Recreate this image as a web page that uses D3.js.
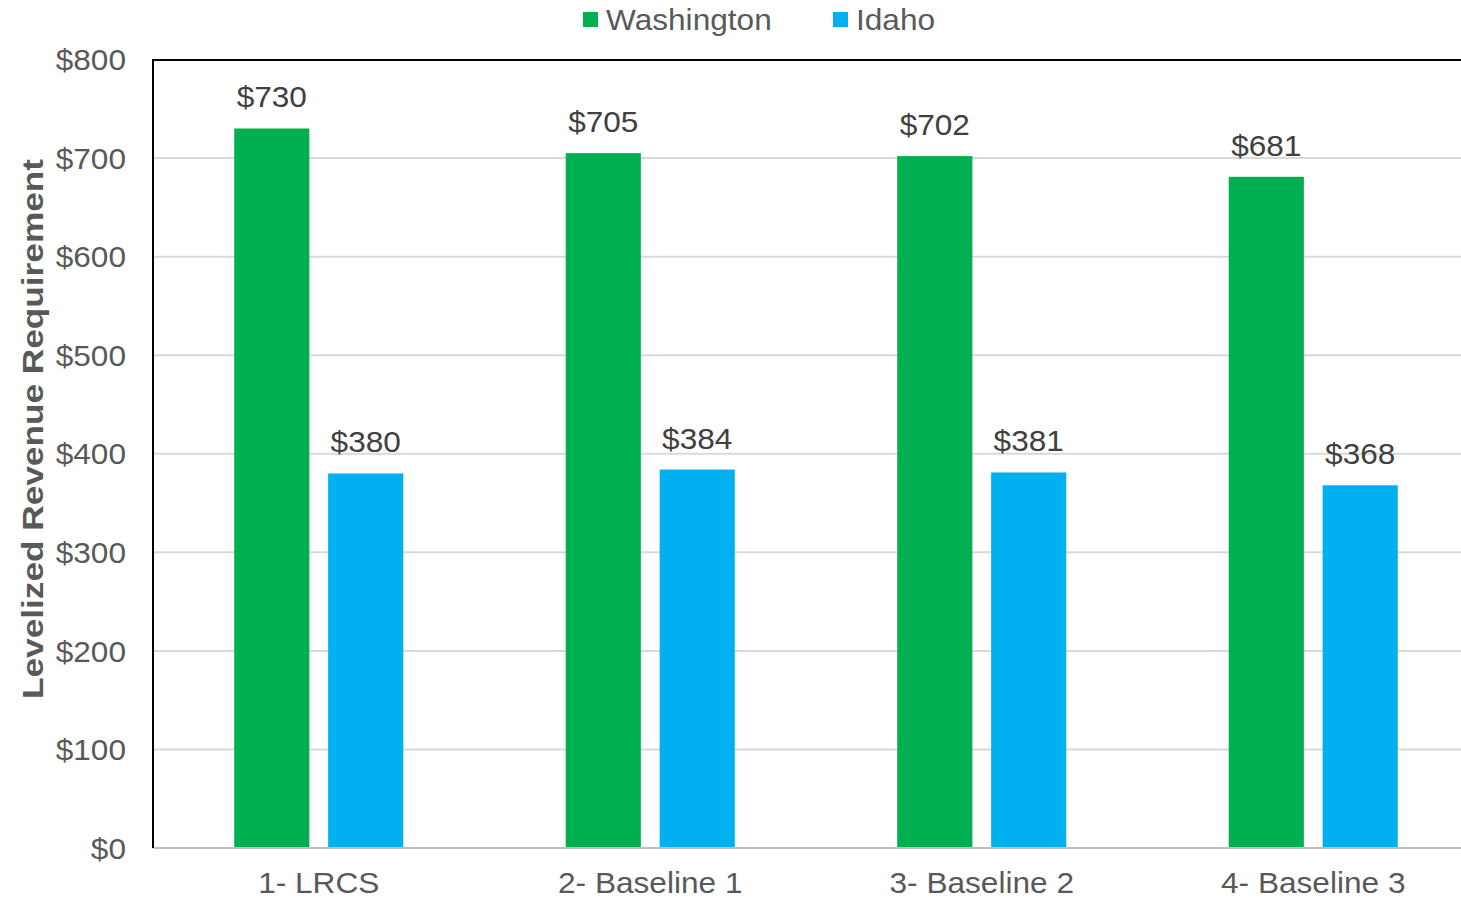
<!DOCTYPE html>
<html>
<head>
<meta charset="utf-8">
<script src="https://cdn.jsdelivr.net/npm/d3@7"></script>
<style>
  html, body { margin: 0; padding: 0; background: #fff; }
  svg { display: block; font-family: "Liberation Sans", Arial, sans-serif; }
</style>
</head>
<body>
<svg id="chart" width="1461" height="899"></svg>
<script>
const categories = ["1- LRCS", "2- Baseline 1", "3- Baseline 2", "4- Baseline 3"];
const seriesNames = ["Washington", "Idaho"];
const washington = [730, 705, 702, 681];
const idaho = [380, 384, 381, 368];
const yTicks = [0, 100, 200, 300, 400, 500, 600, 700, 800];
const colors = ["#00b050", "#00b0f0"];

(function () {
const seriesValues = [washington, idaho];
const table = categories.map((c, i) => ({
  category: c,
  values: seriesNames.map((s, j) => ({ series: s, value: seriesValues[j][i], color: colors[j] }))
}));

const svg = d3.select("#chart");
const W = 1461;
const pLeft = 153, pRight = 1479, pTop = 59.5, pBottom = 848;
const FS = 29, SX = 1.09;

const x0 = d3.scaleBand().domain(categories).range([pLeft, pRight]).paddingInner(0.49).paddingOuter(0.245);
const x1 = d3.scaleBand().domain(seriesNames).range([0, x0.bandwidth()]).paddingInner(0.2).paddingOuter(0);
const y = d3.scaleLinear().domain([0, 800]).range([pBottom, pTop]);

// gridlines
svg.append("g").selectAll("line").data(yTicks.filter(t => t > 0 && t < 800)).join("line")
  .attr("x1", pLeft).attr("x2", W + 20)
  .attr("y1", d => y(d)).attr("y2", d => y(d))
  .attr("stroke", "#d9d9d9").attr("stroke-width", 2);

// bars
const groups = svg.append("g").selectAll("g").data(table).join("g")
  .attr("transform", d => `translate(${x0(d.category)},0)`);
groups.selectAll("rect").data(d => d.values).join("rect")
  .attr("x", d => x1(d.series))
  .attr("width", x1.bandwidth())
  .attr("y", d => y(d.value))
  .attr("height", d => y(0) - y(d.value))
  .attr("fill", d => d.color);

// value labels
groups.selectAll("text").data(d => d.values).join("text")
  .attr("transform", d => `translate(${x1(d.series) + x1.bandwidth() / 2},${y(d.value) - 21}) scale(${SX},1)`)
  .attr("text-anchor", "middle")
  .attr("font-size", FS)
  .attr("fill", "#404040")
  .text(d => "$" + d.value);

// x axis (bottom line)
svg.append("line").attr("x1", pLeft).attr("x2", W + 20)
  .attr("y1", pBottom).attr("y2", pBottom)
  .attr("stroke", "#bfbfbf").attr("stroke-width", 2);

// top border
svg.append("line").attr("x1", pLeft - 1).attr("x2", W + 20)
  .attr("y1", pTop + 0.5).attr("y2", pTop + 0.5)
  .attr("stroke", "#000").attr("stroke-width", 2);

// left axis line
svg.append("line").attr("x1", pLeft).attr("x2", pLeft)
  .attr("y1", pTop).attr("y2", pBottom)
  .attr("stroke", "#000").attr("stroke-width", 2);

// y tick labels
const yAxis = d3.axisLeft(y).tickValues(yTicks).tickSize(0).tickPadding(0).tickFormat(d => "$" + d);
const yg = svg.append("g").attr("transform", `translate(${pLeft - 27},0)`).call(yAxis);
yg.select(".domain").remove();
yg.selectAll("text").attr("font-size", FS).attr("fill", "#595959")
  .attr("font-family", "'Liberation Sans', Arial, sans-serif")
  .attr("x", 0).attr("dy", "0.35em").attr("transform", `scale(${SX},1)`);

// x category labels
const xAxis = d3.axisBottom(x0).tickSize(0).tickPadding(0);
const xg = svg.append("g").attr("transform", `translate(0,${pBottom})`).call(xAxis);
xg.select(".domain").remove();
xg.selectAll("text").attr("font-size", FS).attr("fill", "#595959")
  .attr("font-family", "'Liberation Sans', Arial, sans-serif")
  .attr("y", 45).attr("dy", 0).attr("transform", `scale(${SX},1)`);

// y axis title
svg.append("text")
  .attr("transform", `translate(43,429) rotate(-90)`)
  .attr("text-anchor", "middle")
  .attr("font-size", 30)
  .attr("font-weight", "bold")
  .attr("fill", "#595959")
  .attr("textLength", 540)
  .attr("lengthAdjust", "spacingAndGlyphs")
  .text("Levelized Revenue Requirement");

// legend
const legendItems = [
  { name: seriesNames[0], color: colors[0], x: 583 },
  { name: seriesNames[1], color: colors[1], x: 833 }
];
const lg = svg.append("g").selectAll("g").data(legendItems).join("g")
  .attr("transform", d => `translate(${d.x},0)`);
lg.append("rect").attr("x", 0).attr("y", 12).attr("width", 15).attr("height", 15).attr("fill", d => d.color);
lg.append("text").attr("transform", `translate(23,30) scale(${SX},1)`)
  .attr("font-size", FS).attr("fill", "#595959").text(d => d.name);
})();
</script>
</body>
</html>
